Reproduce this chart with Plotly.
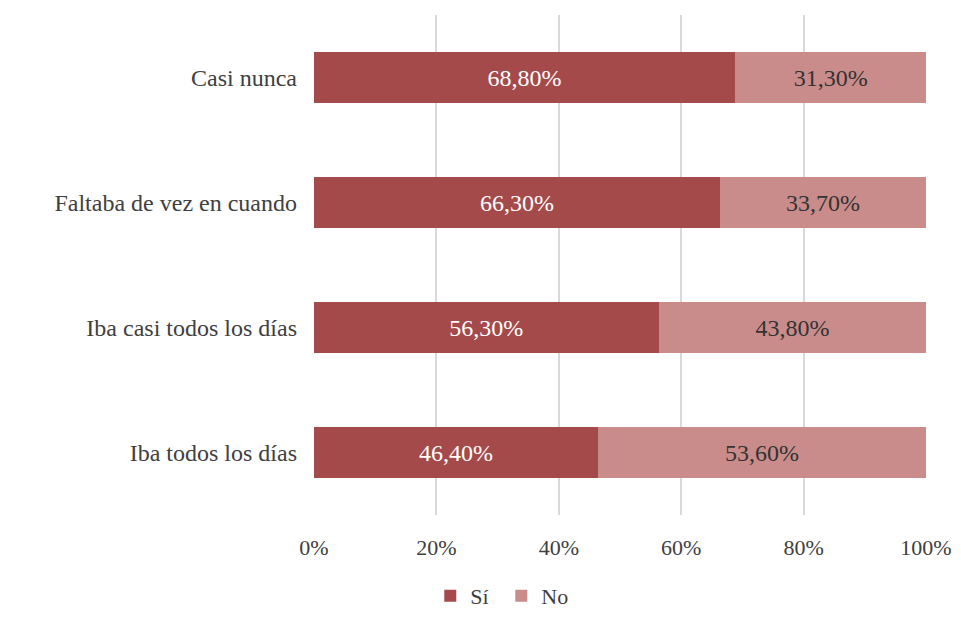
import plotly.graph_objects as go

categories = ["Iba todos los días", "Iba casi todos los días", "Faltaba de vez en cuando", "Casi nunca"]
si_values = [46.4, 56.3, 66.3, 68.8]
no_values = [53.6, 43.8, 33.7, 31.3]
series_names = ["Sí", "No"]
tick_vals = [0, 20, 40, 60, 80, 100]
tick_text = ["0%", "20%", "40%", "60%", "80%", "100%"]

FONT = "Liberation Serif"

def fmt(v):
    return f"{v:.2f}".replace(".", ",") + "%"

fig = go.Figure()
fig.add_trace(go.Bar(
    y=categories, x=si_values, name=series_names[0], orientation="h",
    marker=dict(color="#A54A4A", line=dict(width=0)),
    text=[fmt(v) for v in si_values], textposition="inside", insidetextanchor="middle",
    textangle=0, textfont=dict(family=FONT, size=24, color="#FFFFFF"),
))
fig.add_trace(go.Bar(
    y=categories, x=no_values, name=series_names[1], orientation="h",
    marker=dict(color="#C98C8B", line=dict(width=0)),
    text=[fmt(v) for v in no_values], textposition="inside", insidetextanchor="middle",
    textangle=0, textfont=dict(family=FONT, size=24, color="#333333"),
))

fig.update_layout(
    barmode="stack", bargap=0.59,
    width=953, height=609,
    margin=dict(l=306, r=35, t=7, b=102, autoexpand=False),
    paper_bgcolor="white", plot_bgcolor="white",
    font=dict(family=FONT, size=24, color="#404040"),
    showlegend=True,
    legend=dict(orientation="h", x=0.19, xanchor="left", yref="container", y=0, yanchor="bottom",
                entrywidth=26, entrywidthmode="pixels",
                font=dict(family=FONT, size=22, color="#404040"), traceorder="normal"),
    xaxis=dict(range=[0, 100], tickmode="array", tickvals=tick_vals, ticktext=tick_text,
               showgrid=True, automargin=False, tickfont=dict(size=22),
               gridcolor="#D9D9D9", gridwidth=2, zeroline=False, showline=False,
               ticks="", ticklabelstandoff=17),
    yaxis=dict(showgrid=False, zeroline=False, showline=False, ticks="", automargin=False,
               ticklabelstandoff=16),
)

fig.write_html("out.html")
